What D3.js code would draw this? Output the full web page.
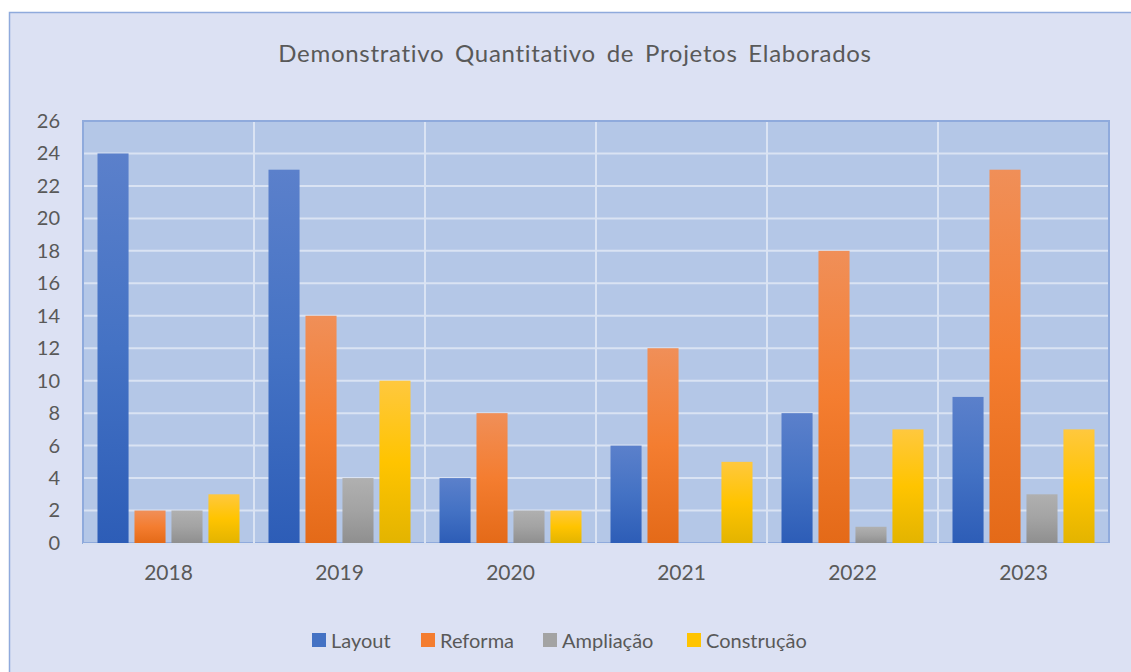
<!DOCTYPE html>
<html>
<head>
<meta charset="utf-8">
<script src="https://cdn.jsdelivr.net/npm/d3@7"></script>
<style>
  body { margin: 0; background: #ffffff; }
  svg { display: block; }
  text { font-family: Lato, "Open Sans", sans-serif; fill: #595959; }
</style>
</head>
<body>
<svg width="1131" height="672"></svg>
<script>
// data
var years = ["2018", "2019", "2020", "2021", "2022", "2023"]
var series = ["Layout", "Reforma", "Ampliação", "Construção"]
var layout = [24, 23, 4, 6, 8, 9]
var reforma = [2, 14, 8, 12, 18, 23]
var ampliacao = [2, 4, 2, 0, 1, 3]
var construcao = [3, 10, 2, 5, 7, 7]
var yTicks = d3.range(0, 27, 2)

var values = [layout, reforma, ampliacao, construcao]
var rows = years.map((y, i) => {
    var r = { year: y }
    series.forEach((s, j) => r[s] = values[j][i])
    return r
})

var colors = {
    "Layout": ["#5b80cb", "#4472c4", "#2d5db7"],
    "Reforma": ["#f08f58", "#f47d30", "#e46a18"],
    "Ampliação": ["#b0b0b0", "#a3a3a3", "#8f8f8f"],
    "Construção": ["#ffc83e", "#ffc400", "#e3b400"]
}

var svg = d3.select("svg")
var defs = svg.append("defs")
series.forEach((s, i) => {
    var g = defs.append("linearGradient").attr("id", "grad" + i)
        .attr("x1", 0).attr("y1", 0).attr("x2", 0).attr("y2", 1)
    g.append("stop").attr("offset", "0%").attr("stop-color", colors[s][0])
    g.append("stop").attr("offset", "50%").attr("stop-color", colors[s][1])
    g.append("stop").attr("offset", "100%").attr("stop-color", colors[s][2])
})

// chart background + border
svg.append("rect").attr("x", 0).attr("y", 0).attr("width", 1131).attr("height", 672).attr("fill", "#ffffff")
svg.append("rect").attr("x", 9.5).attr("y", 12.5).attr("width", 1140).attr("height", 680)
    .attr("fill", "#dce1f3").attr("stroke", "#8faadc").attr("stroke-width", 1.5)

var plotLeft = 83, plotRight = 1109, plotTop = 121, plotBottom = 543

var x0 = d3.scaleBand().domain(years).range([plotLeft, plotRight])
var x1 = d3.scaleBand().domain(series).range([14.5, x0.bandwidth() - 14.5]).paddingInner(0.16)
var y = d3.scaleLinear().domain([0, 26]).range([plotBottom, plotTop])

// plot area
svg.append("rect").attr("x", plotLeft).attr("y", plotTop).attr("width", plotRight - plotLeft).attr("height", plotBottom - plotTop)
    .attr("fill", "#b4c7e7").attr("stroke", "#8faadc").attr("stroke-width", 2)

// horizontal gridlines
svg.append("g").selectAll("line").data(yTicks.slice(1, -1)).enter().append("line")
    .attr("x1", plotLeft + 1).attr("x2", plotRight - 1)
    .attr("y1", d => y(d)).attr("y2", d => y(d))
    .attr("stroke", "#dae3f3").attr("stroke-width", 2)

// vertical gridlines at category boundaries
svg.append("g").selectAll("line").data(years.slice(1)).enter().append("line")
    .attr("x1", d => x0(d)).attr("x2", d => x0(d))
    .attr("y1", plotTop + 1).attr("y2", plotBottom)
    .attr("stroke", "#dae3f3").attr("stroke-width", 2)

// bottom axis line
svg.append("line").attr("x1", plotLeft).attr("x2", plotRight + 1).attr("y1", plotBottom + 1).attr("y2", plotBottom + 1)
    .attr("stroke", "#d9e0f0").attr("stroke-width", 2)

// bars
svg.append("g").attr("id", "bars").selectAll("g").data(rows).enter().append("g")
    .attr("transform", d => "translate(" + x0(d.year) + ",0)")
    .selectAll("rect").data(d => series.map((s, i) => ({ key: s, i: i, value: d[s] })))
    .enter().append("rect")
    .attr("x", d => x1(d.key))
    .attr("width", x1.bandwidth())
    .attr("y", d => y(d.value))
    .attr("height", d => y(0) - y(d.value))
    .attr("fill", d => "url(#grad" + d.i + ")")

// y axis labels
var yAxis = d3.axisLeft(y).tickValues(yTicks).tickSize(0).tickPadding(0)
var ya = svg.append("g").attr("transform", "translate(60,0)").call(yAxis)
ya.select(".domain").remove()
ya.selectAll("text").style("font-size", "20px").attr("fill", "#595959").attr("text-anchor", "end")
    .style("font-family", "Lato, 'Open Sans', sans-serif")

// x axis labels
var xAxis = d3.axisBottom(x0).tickSize(0).tickPadding(0)
var xa = svg.append("g").attr("transform", "translate(0,565)").call(xAxis)
xa.select(".domain").remove()
xa.selectAll("text").style("font-size", "21px").attr("fill", "#595959")
    .style("font-family", "Lato, 'Open Sans', sans-serif")

// title
svg.append("text").attr("x", 575).attr("y", 62).attr("text-anchor", "middle")
    .style("font-size", "24px").style("letter-spacing", "0.7px").style("word-spacing", "4px")
    .text("Demonstrativo Quantitativo de Projetos Elaborados")

// legend
var legendX = [312, 421, 543, 687]
var legend = svg.append("g").selectAll("g").data(series).enter().append("g")
    .attr("transform", (d, i) => "translate(" + legendX[i] + ",633)")
legend.append("rect").attr("width", 14).attr("height", 14)
    .attr("fill", (d, i) => colors[d][1])
legend.append("text").attr("x", 19).attr("y", 15).style("font-size", "20px").text(d => d)
</script>
</body>
</html>
